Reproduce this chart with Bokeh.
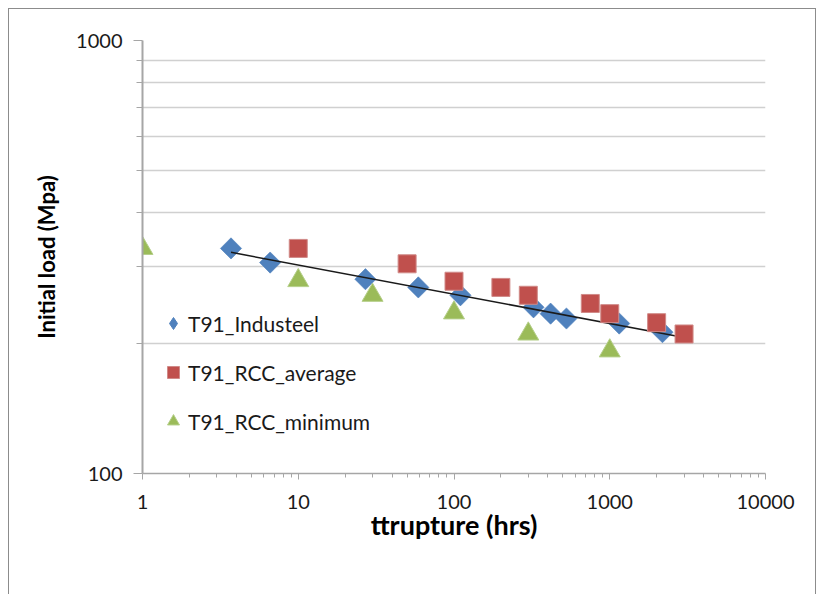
import numpy as np
from bokeh.plotting import figure
from bokeh.models import Range1d, FixedTicker, Legend, LegendItem, PrintfTickFormatter
from bokeh.embed import file_html
from bokeh.resources import INLINE

# ---- data ----
ind_x = [3.7, 6.6, 27, 59, 110, 324, 417, 527, 1150, 2180]
ind_y = [331, 307, 281, 269, 258, 242, 234, 228, 222, 212]

avg_x = [10, 50, 100, 200, 300, 750, 1000, 2000, 3000]
avg_y = [331, 305, 278, 269, 258, 247, 234, 223, 210]

min_x = [1, 10, 30, 100, 300, 1000]
min_y = [331, 279, 258, 235, 210, 192]

x_ticks = [1, 10, 100, 1000, 10000]
y_ticks = [100, 1000]
y_minor = [200, 300, 400, 500, 600, 700, 800, 900]
x_minor = [m * d for d in [1, 10, 100, 1000] for m in range(2, 10)]

series_names = ["T91_Industeel", "T91_RCC_average", "T91_RCC_minimum"]
colors = ["#4F81BD", "#C0504D", "#9BBB59"]

# power-law trendline fitted to the Industeel series
b, a = np.polyfit(np.log10(ind_x), np.log10(ind_y), 1)
trend_x = np.array([min(ind_x), max(avg_x)])
trend_y = 10 ** (a + b * np.log10(trend_x))

FONT = "Lato"

p = figure(width=808, height=586, x_axis_type="log", y_axis_type="log",
           x_range=Range1d(1, 10000), y_range=Range1d(100, 1000),
           output_backend="svg", toolbar_location=None,
           min_border_left=133, min_border_right=52, min_border_top=31, min_border_bottom=122)
p.styles = {"border-top": "1px solid #8c8c8c", "border-left": "1px solid #8c8c8c",
            "border-right": "1px solid #8c8c8c", "margin": "8px 0 0 8px"}
p.outline_line_color = None
p.background_fill_color = "white"
p.border_fill_color = "white"

# axes
yt = FixedTicker(ticks=y_ticks, minor_ticks=y_minor)
xt = FixedTicker(ticks=x_ticks, minor_ticks=x_minor)

xa = p.xaxis[0]
xa.ticker = xt
xa.formatter = PrintfTickFormatter(format="%d")
xa.axis_line_color = "#a6a6a6"
xa.axis_line_width = 1.5
xa.major_tick_line_color = "#a6a6a6"
xa.major_tick_out = 6
xa.major_tick_in = 0
xa.minor_tick_line_color = "#a6a6a6"
xa.minor_tick_out = 4
xa.minor_tick_in = 0
xa.major_label_text_font = FONT
xa.major_label_text_font_size = "20px"
xa.major_label_text_color = "#1a1a1a"
xa.major_label_standoff = 15
xa.axis_label = "ttrupture (hrs)"
xa.axis_label_text_font = FONT
xa.axis_label_text_font_style = "bold"
xa.axis_label_text_font_size = "27px"
xa.axis_label_text_color = "#000000"
xa.axis_label_standoff = -4

ya = p.yaxis[0]
ya.ticker = yt
ya.formatter = PrintfTickFormatter(format="%d")
ya.axis_line_color = "#a6a6a6"
ya.axis_line_width = 2
ya.major_tick_line_color = "#a6a6a6"
ya.major_tick_out = 9
ya.major_tick_in = 0
ya.minor_tick_line_color = "#a6a6a6"
ya.minor_tick_out = 6
ya.minor_tick_in = 0
ya.major_label_text_font = FONT
ya.major_label_text_font_size = "20px"
ya.major_label_text_color = "#1a1a1a"
ya.major_label_standoff = 11
ya.axis_label = "Initial load (Mpa)"
ya.axis_label_text_font = FONT
ya.axis_label_text_font_style = "bold"
ya.axis_label_text_font_size = "22px"
ya.axis_label_text_color = "#000000"
ya.axis_label_standoff = 13

p.xgrid.visible = False
p.ygrid.ticker = yt
p.ygrid.grid_line_color = None
p.ygrid.minor_grid_line_color = "#d0d0d0"
p.ygrid.minor_grid_line_width = 1.5

# legend glyph for the Industeel series: a diamond hidden under the rotated squares
leg_ind = p.scatter(ind_x, ind_y, marker="diamond", size=19,
                    fill_color=colors[0], line_color=colors[0])
r_ind = p.scatter(ind_x, ind_y, marker="square", angle=np.pi / 4, size=15,
                  fill_color=colors[0], line_color=colors[0], line_alpha=0.6)

# trendline
p.line(trend_x, trend_y, line_color="#1a1a1a", line_width=1.5)

r_avg = p.scatter(avg_x, avg_y, marker="square", size=18,
                  fill_color=colors[1], line_color="#d08a88", line_width=1)
r_min = p.scatter(min_x, min_y, marker="triangle", size=21,
                  fill_color=colors[2], line_color="#b5cf8a", line_width=1)

legend = Legend(items=[LegendItem(label=series_names[0], renderers=[leg_ind]),
                       LegendItem(label=series_names[1], renderers=[r_avg]),
                       LegendItem(label=series_names[2], renderers=[r_min])],
                location=(16, 35), orientation="vertical",
                border_line_color=None, background_fill_alpha=0,
                glyph_width=30, glyph_height=34, label_height=34,
                spacing=15, padding=0, margin=0, label_standoff=0,
                label_text_font=FONT, label_text_font_size="21px",
                label_text_color="#1a1a1a")
p.add_layout(legend)

open("out.html", "w").write(file_html(p, INLINE))
